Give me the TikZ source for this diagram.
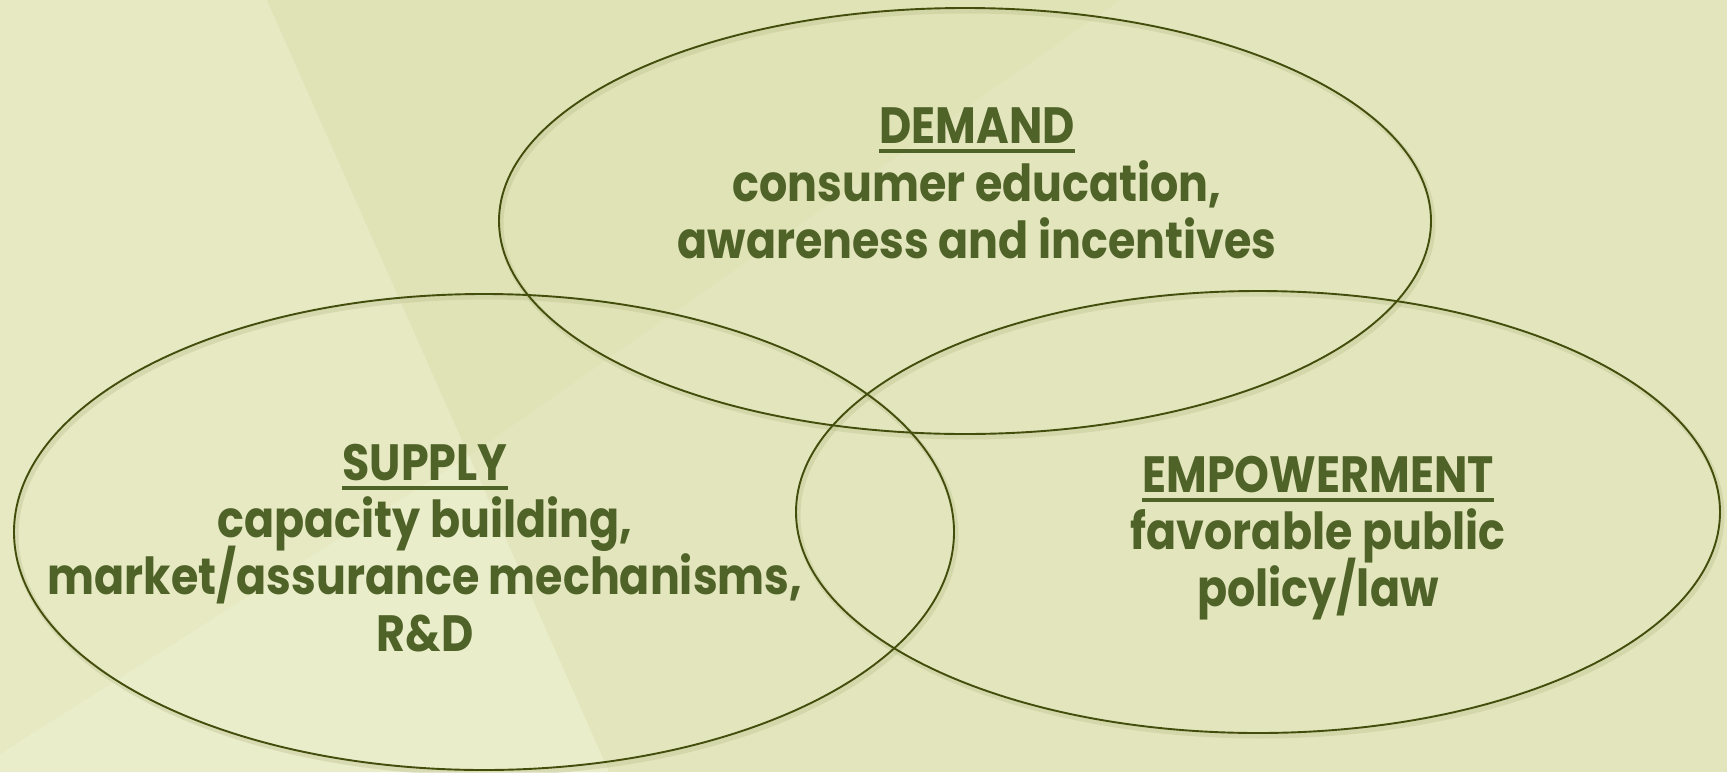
\documentclass[tikz,border=0pt]{standalone}
\usepackage{fontspec}
\setmainfont{Poppins}[FakeStretch=0.87]
\definecolor{bgbase}{HTML}{E3E6BD}
\definecolor{bgwedge}{HTML}{E0E3B6}
\definecolor{bgleft}{HTML}{E6E9C2}
\definecolor{bglight}{HTML}{EAEDCA}
\definecolor{txt}{HTML}{4F6228}
\definecolor{ring}{HTML}{434D0C}
\definecolor{ringshadow}{HTML}{B9BC88}
\begin{document}
\begin{tikzpicture}[x=1pt,y=-1pt,
  ringline/.style={draw=ring,line width=1.9pt},
  ringshade/.style={draw=ringshadow,line width=5pt,opacity=0.35},
  lbl/.style={text=txt,font=\fontsize{51}{57}\selectfont\bfseries,inner sep=0pt,anchor=base},
  uline/.style={draw=txt,line width=3.5pt}]
\useasboundingbox (0,0) rectangle (1727,772);
% background
\fill[bgbase] (0,0) rectangle (1727,772);
\fill[bgleft] (0,0) -- (267,0) -- (469,456) -- (0,754) -- cycle;
\fill[bgwedge] (267,0) -- (1120,0) -- (469,456) -- cycle;
\fill[bglight] (469,456) -- (609,772) -- (0,772) -- (0,754) -- cycle;
% shadows
\draw[ringshade] (967,224) ellipse [x radius=466, y radius=213];
\draw[ringshade] (486,535) ellipse [x radius=470, y radius=238];
\draw[ringshade] (1260,515) ellipse [x radius=462, y radius=221];
% ellipses
\draw[ringline] (965,221) ellipse [x radius=466, y radius=213];
\draw[ringline] (484,532) ellipse [x radius=470, y radius=238];
\draw[ringline] (1258,512) ellipse [x radius=462, y radius=221];
% DEMAND
\node[lbl] (dt) at (977,143) {DEMAND};
\draw[uline] ([yshift=-8pt]dt.base west) -- ([yshift=-8pt]dt.base east);
\node[lbl] (d1) at (977,201) {consumer education,};
\node[lbl] (d2) at (977,258) {awareness and incentives};
% SUPPLY
\node[lbl] (st) at (425,480) {SUPPLY};
\draw[uline] ([yshift=-8pt]st.base west) -- ([yshift=-8pt]st.base east);
\node[lbl] (s1) at (425,537) {capacity building,};
\node[lbl] (s2) at (425,594) {market/assurance mechanisms,};
\node[lbl] (s3) at (425,651) {R\&D};
% EMPOWERMENT
\node[lbl] (et) at (1318,492) {EMPOWERMENT};
\draw[uline] ([yshift=-8pt]et.base west) -- ([yshift=-8pt]et.base east);
\node[lbl] (e1) at (1318,549) {favorable public};
\node[lbl] (e2) at (1318,606) {policy/law};
\end{tikzpicture}
\end{document}
